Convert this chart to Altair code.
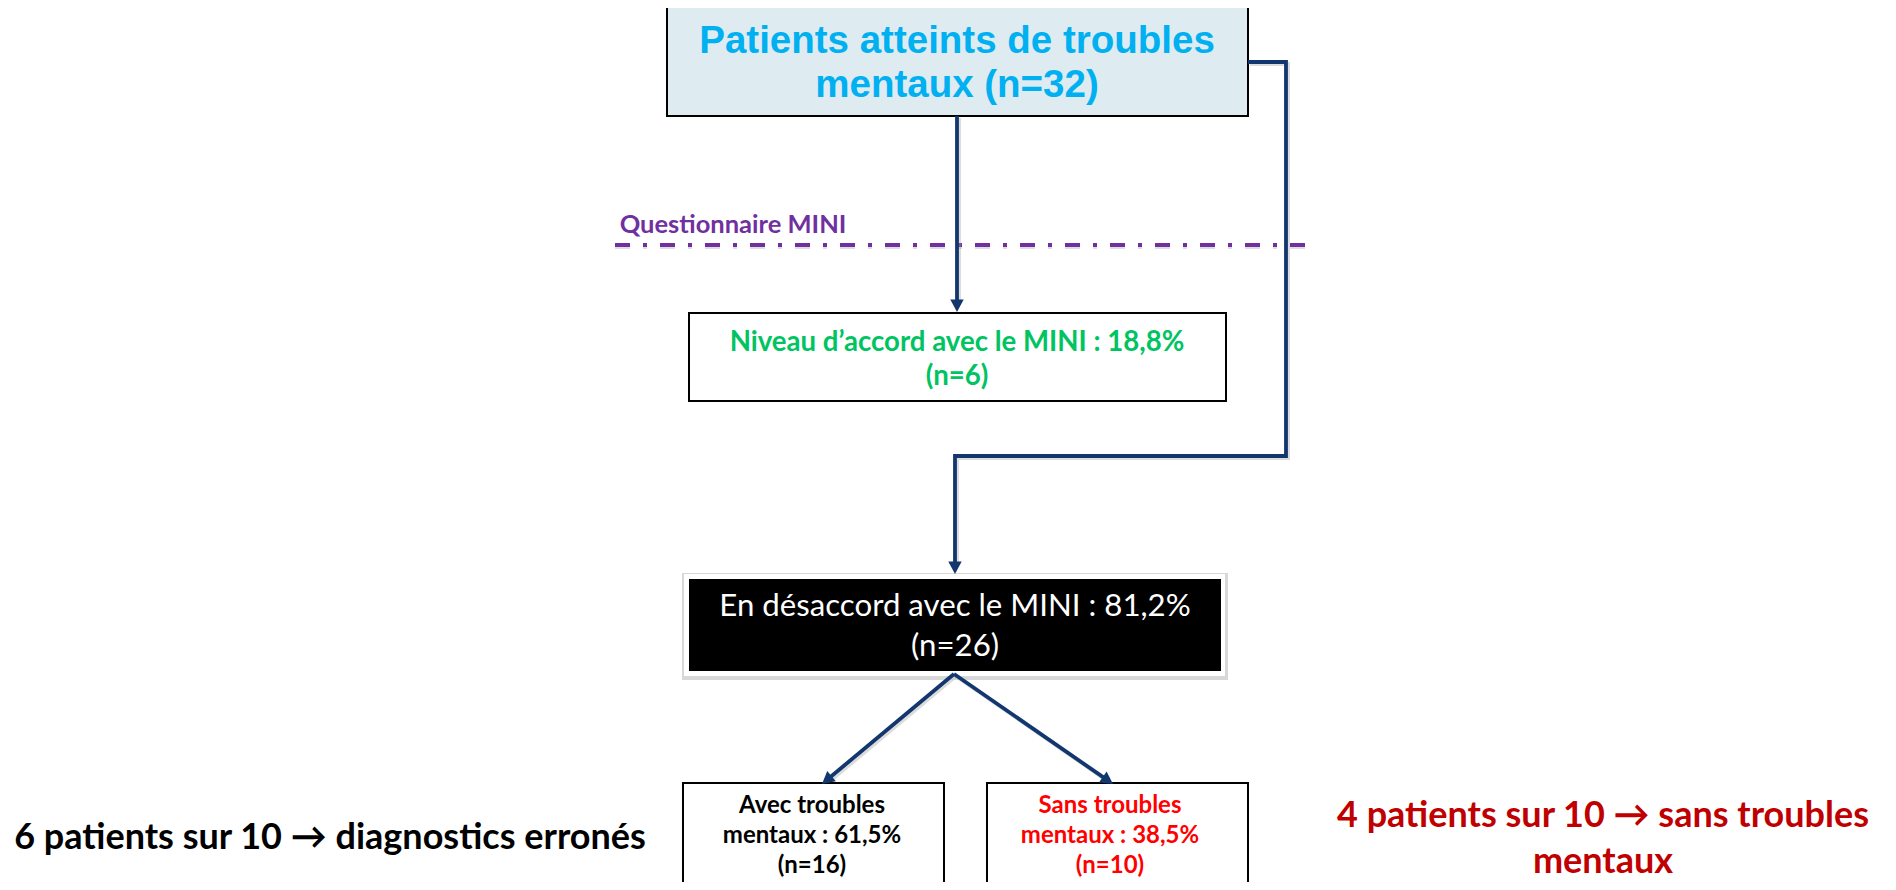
import math
import altair as alt
import pandas as pd

NAVY = "#12366E"
PURPLE = "#7030A0"

# ---------------- data (page pixel coordinates of the flow diagram) ----------------
box_name = ["patients", "accord", "avec", "sans"]
box_left = [667, 689, 683, 987]
box_right = [1248, 1226, 944, 1248]
box_top = [7, 313, 783, 783]
box_bottom = [116, 401, 910, 910]
box_fill = ["#DEEBF1", "#FFFFFF", "#FFFFFF", "#FFFFFF"]

# black "désaccord" node (inner area, white frame and soft shadow around it)
dis_left, dis_right, dis_top, dis_bottom = 689, 1221, 579, 671

# connectors (polylines, the last point is the arrow tip)
path_id = ["a", "a", "b", "b", "b", "b", "b", "c", "c", "d", "d"]
path_x = [957, 957, 1248, 1286, 1286, 955, 955, 954, 822, 954, 1113]
path_y = [116, 312, 62, 62, 456, 456, 574, 674, 784, 674, 784]

# MINI separator
sep_x = [615, 1310]
sep_y = [245, 245]

# texts
title_lines = ["Patients atteints de troubles", "mentaux (n=32)"]
title_x = [957, 957]
title_y = [53, 97]

mini_label = ["Questionnaire MINI"]
mini_x = [733]
mini_y = [233]

accord_lines = ["Niveau d\u2019accord avec le MINI : 18,8%", "(n=6)"]
accord_x = [957, 957]
accord_y = [351, 385]

dis_lines = ["En d\u00e9saccord avec le MINI : 81,2%", "(n=26)"]
dis_x = [955, 955]
dis_y = [616, 656]

leaf_lines = ["Avec troubles", "mentaux : 61,5%", "(n=16)",
              "Sans troubles", "mentaux : 38,5%", "(n=10)"]
leaf_x = [812, 812, 812, 1110, 1110, 1110]
leaf_y = [813, 843, 873, 813, 843, 873]
leaf_color = ["#000000"] * 3 + ["#FF0000"] * 3

side_lines = ["6 patients sur 10 \u2192 diagnostics erron\u00e9s",
              "4 patients sur 10 \u2192 sans troubles", "mentaux"]
side_x = [330, 1603, 1603]
side_y = [849, 827, 873]
side_color = ["#000000", "#C00000", "#C00000"]

# ---------------- scales ----------------
xs = alt.Scale(domain=[8, 1888], nice=False, zero=False)
ys = alt.Scale(domain=[8, 882], nice=False, zero=False, reverse=True)
X = lambda f: alt.X(f, scale=xs, axis=None)
Y = lambda f: alt.Y(f, scale=ys, axis=None)

# ---------------- boxes ----------------
boxes = pd.DataFrame({"name": box_name, "x0": box_left, "x1": box_right,
                      "y0": box_top, "y1": box_bottom, "fill": box_fill})
box_layer = alt.Chart(boxes).mark_rect(stroke="black", strokeWidth=2, clip=True).encode(
    x=X("x0:Q"), x2="x1:Q", y=Y("y0:Q"), y2="y1:Q", fill=alt.Fill("fill:N", scale=None))

dis = pd.DataFrame({"x0": [dis_left], "x1": [dis_right], "y0": [dis_top], "y1": [dis_bottom]})
dis_shadow = alt.Chart(dis).transform_calculate(
    a="datum.x0 - 7", b="datum.x1 + 7", c="datum.y0 - 6", d="datum.y1 + 9"
).mark_rect(fill="#C8C8C8", opacity=0.7).encode(x=X("a:Q"), x2="b:Q", y=Y("c:Q"), y2="d:Q")
dis_frame = alt.Chart(dis).transform_calculate(
    a="datum.x0 - 5", b="datum.x1 + 4", c="datum.y0 - 5", d="datum.y1 + 5"
).mark_rect(fill="#FFFFFF").encode(x=X("a:Q"), x2="b:Q", y=Y("c:Q"), y2="d:Q")
dis_box = alt.Chart(dis).mark_rect(fill="#000000").encode(
    x=X("x0:Q"), x2="x1:Q", y=Y("y0:Q"), y2="y1:Q")

# ---------------- connectors ----------------
paths = pd.DataFrame({"pid": path_id, "x": path_x, "y": path_y})
draw_rows = []
head_rows = []
for pid, g in paths.groupby("pid", sort=False):
    pts = list(zip(g["x"], g["y"]))
    (xa, ya), (xb, yb) = pts[-2], pts[-1]
    L = math.hypot(xb - xa, yb - ya)
    ux, uy = (xb - xa) / L, (yb - ya) / L
    ang = math.degrees(math.atan2(-ux, uy)) % 360
    head_rows.append({"x": xb, "y": yb, "ang": ang})
    short = pts[:-1] + [(xb - ux * 9, yb - uy * 9)]
    for i, (px, py) in enumerate(short):
        draw_rows.append({"pid": pid, "seq": i, "x": px, "y": py})
draw = pd.DataFrame(draw_rows)
heads = pd.DataFrame(head_rows)

line_shadow = alt.Chart(draw).transform_calculate(
    sx="datum.x + 2", sy="datum.y + 2"
).mark_line(color="#9A9A9A", strokeWidth=4, opacity=0.35, strokeJoin="miter").encode(
    x=X("sx:Q"), y=Y("sy:Q"), detail="pid:N", order="seq:Q")
line_layer = alt.Chart(draw).mark_line(color=NAVY, strokeWidth=3.8, strokeJoin="miter",
                                       strokeCap="butt").encode(
    x=X("x:Q"), y=Y("y:Q"), detail="pid:N", order="seq:Q")
head_layer = alt.Chart(heads).mark_point(
    shape="M-1,-1.85L0,0L1,-1.85Z", size=180, filled=True, color=NAVY, opacity=1,
    strokeWidth=0).encode(x=X("x:Q"), y=Y("y:Q"), angle=alt.Angle("ang:Q", scale=None))

# ---------------- separator ----------------
sep = pd.DataFrame({"x0": [sep_x[0]], "x1": [sep_x[1]], "y": [sep_y[0]]})
sep_shadow = alt.Chart(sep).transform_calculate(sy="datum.y + 2").mark_rule(
    color="#A0A0A0", strokeWidth=4, opacity=0.35, strokeDash=[15, 13, 4, 13]).encode(
    x=X("x0:Q"), x2="x1:Q", y=Y("sy:Q"))
sep_layer = alt.Chart(sep).mark_rule(color=PURPLE, strokeWidth=4,
                                     strokeDash=[15, 13, 4, 13]).encode(
    x=X("x0:Q"), x2="x1:Q", y=Y("y:Q"))


# ---------------- texts ----------------
def text_layer(lines, xv, yv, colors, font, size, weight):
    df = pd.DataFrame({"t": lines, "x": xv, "y": yv, "c": colors})
    return alt.Chart(df).mark_text(font=font, fontSize=size, fontWeight=weight,
                                   align="center", baseline="alphabetic").encode(
        x=X("x:Q"), y=Y("y:Q"), text="t:N", color=alt.Color("c:N", scale=None))


CAL = "Lato, 'Open Sans', sans-serif"
t_title = text_layer(title_lines, title_x, title_y, ["#00B0F0"] * 2,
                     "'Liberation Sans', Arial, sans-serif", 38.5, "bold")
t_mini = text_layer(mini_label, mini_x, mini_y, [PURPLE], CAL, 25.5, "bold")
t_accord = text_layer(accord_lines, accord_x, accord_y, ["#00C462"] * 2, CAL, 27.6, "bold")
t_dis = text_layer(dis_lines, dis_x, dis_y, ["#FFFFFF"] * 2, CAL, 31.2, "normal")
t_leaf = text_layer(leaf_lines, leaf_x, leaf_y, leaf_color, CAL, 24, "bold")
t_side = text_layer(side_lines, side_x, side_y, side_color, CAL, 36, "bold")

chart = alt.layer(
    sep_shadow, sep_layer, line_shadow,
    box_layer, dis_shadow, dis_frame, dis_box,
    line_layer, head_layer,
    t_title, t_mini, t_accord, t_dis, t_leaf, t_side,
).properties(width=1880, height=874, padding=0, autosize="none",
             background="#FFFFFF").configure_view(strokeWidth=0)

chart.save("out.html", embed_options={"renderer": "svg", "actions": False})
